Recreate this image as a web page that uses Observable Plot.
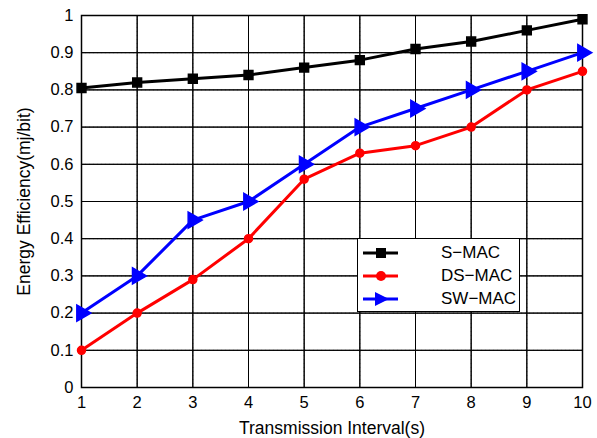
<!DOCTYPE html>
<html><head><meta charset="utf-8">
<script src="https://cdn.jsdelivr.net/npm/d3@7"></script>
<script src="https://cdn.jsdelivr.net/npm/@observablehq/plot@0.6"></script>
<style>
body{margin:0;background:#fff;font-family:"Liberation Sans",Arial,sans-serif;}
#wrap{position:relative;width:597px;height:438px;}
#legend{position:absolute;left:357px;top:238px;width:161px;height:72px;border:1.5px solid #000;background:#fff;font-size:17px;}
.item{position:absolute;left:0;height:22px;display:flex;align-items:center;}
.item span{position:absolute;left:83px;white-space:nowrap;}
#chart svg g[aria-label="x-axis tick label"] text, #chart svg g[aria-label="y-axis tick label"] text{font-size:16.5px;}
#chart svg g[aria-label="x-axis label"] text, #chart svg g[aria-label="y-axis label"] text{font-size:17.5px;}
</style></head><body>
<div id="wrap"><div id="chart"></div><div id="legend"></div></div>
<script>
const intervals = [1,2,3,4,5,6,7,8,9,10];
const smac  = [0.805,0.82,0.83,0.84,0.86,0.88,0.91,0.93,0.96,0.99];
const dsmac = [0.10,0.20,0.29,0.40,0.56,0.63,0.65,0.70,0.80,0.85];
const swmac = [0.20,0.30,0.45,0.50,0.60,0.70,0.75,0.80,0.85,0.90];
const seriesNames = ["S-MAC","DS-MAC","SW-MAC"];
const colors = ["#000000","#ff0000","#0000ff"];
const yTicks = [0,0.1,0.2,0.3,0.4,0.5,0.6,0.7,0.8,0.9,1];

const rows = (vals, name) => intervals.map((x,i)=>({x, y: vals[i], s: name}));
const dS = rows(smac,"S-MAC"), dD = rows(dsmac,"DS-MAC"), dW = rows(swmac,"SW-MAC");
const yfmt = v => v===0 ? "0" : v===1 ? "1" : d3.format(".1f")(v);

const chart = Plot.plot({
  width: 597, height: 438,
  marginLeft: 81, marginRight: 15, marginTop: 15, marginBottom: 51,
  style: {fontFamily: '"Liberation Sans",Arial,sans-serif', fontSize: "16px", color: "#000", background: "#fff"},
  x: {domain: [1,10]},
  y: {domain: [0,1]},
  marks: [
    Plot.gridX(intervals.slice(1,-1), {stroke: "#999", strokeOpacity: 1, strokeDasharray: "1,3", strokeWidth: 1}),
    Plot.gridY(yTicks.slice(1,-1), {stroke: "#999", strokeOpacity: 1, strokeDasharray: "1,3", strokeWidth: 1}),
    Plot.axisX({anchor: "bottom", ticks: intervals, tickSize: 0, tickPadding: 9, label: "Transmission Interval(s)", labelAnchor: "center", labelArrow: "none", labelOffset: 46}),
    Plot.axisY({anchor: "left", ticks: yTicks, tickSize: 0, tickPadding: 8, tickFormat: yfmt, label: "Energy Efficiency(mj/bit)", labelAnchor: "center", labelArrow: "none", labelOffset: 64}),
    Plot.tickX(intervals, {x: d=>d, y1: 0, y2: 0.014, stroke: "#000"}),
    Plot.tickX(intervals, {x: d=>d, y1: 0.986, y2: 1, stroke: "#000"}),
    Plot.tickY(yTicks, {y: d=>d, x1: 1, x2: 1.08, stroke: "#000"}),
    Plot.tickY(yTicks, {y: d=>d, x1: 9.92, x2: 10, stroke: "#000"}),
    Plot.frame({stroke: "#000", strokeWidth: 1.5}),
    Plot.line(dS, {x:"x", y:"y", stroke: colors[0], strokeWidth: 3}),
    Plot.line(dD, {x:"x", y:"y", stroke: colors[1], strokeWidth: 3}),
    Plot.line(dW, {x:"x", y:"y", stroke: colors[2], strokeWidth: 3}),
    Plot.dot(dS, {x:"x", y:"y", symbol:"square", r: 5, fill: colors[0], stroke: colors[0]}),
    Plot.dot(dD, {x:"x", y:"y", symbol:"circle", r: 4, fill: colors[1], stroke: colors[1]}),
    Plot.dot(dW, {x:"x", y:"y", symbol:"triangle", r: 6, rotate: 90, fill: colors[2], stroke: colors[2]})
  ]
});
document.getElementById("chart").appendChild(chart);

const syms = [
  '<rect x="18" y="6" width="10" height="10" fill="#000"/>',
  '<circle cx="23" cy="11" r="5" fill="#ff0000"/>',
  '<polygon points="17,4 31,11 17,18" fill="#0000ff"/>'
];
const lg = document.getElementById("legend");
seriesNames.forEach((n,i)=>{
  const d = document.createElement("div");
  d.className = "item";
  d.style.top = (3 + i*23) + "px";
  d.innerHTML = `<svg width="60" height="22"><line x1="5" x2="40" y1="11" y2="11" stroke="${colors[i]}" stroke-width="3"/>${syms[i]}</svg><span>${n.replace("-","\u2212")}</span>`;
  lg.appendChild(d);
});
</script>
</body></html>
